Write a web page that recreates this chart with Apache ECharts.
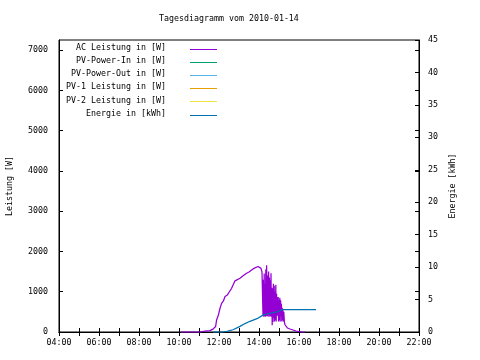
<!DOCTYPE html>
<html>
<head>
<meta charset="utf-8">
<script src="https://cdn.jsdelivr.net/npm/echarts@6/dist/echarts.min.js"></script>
<style>html,body{margin:0;padding:0;background:#fff}#c{width:480px;height:360px}</style>
</head>
<body>
<div id="c"></div>
<script>
// ---- data ----
const titleText = 'Tagesdiagramm vom 2010-01-14';
const seriesNames = ['AC Leistung in [W]', 'PV-Power-In in [W]', 'PV-Power-Out in [W]', 'PV-1 Leistung in [W]', 'PV-2 Leistung in [W]', 'Energie in [kWh]'];
const seriesColors = ['#9400d3', '#009e73', '#56b4e9', '#e69f00', '#f0e442', '#0072b2'];
const leftAxisName = 'Leistung [W]';
const rightAxisName = 'Energie [kWh]';

// AC power: time in hours, value in W
const acHours = [10.1, 11.05, 11.1, 11.3, 11.35, 11.55, 11.6, 11.7, 11.72, 11.8, 11.83, 11.88, 11.97, 12.05, 12.13, 12.22, 12.3, 12.42, 12.52, 12.63, 12.72, 12.8, 12.88, 13.05, 13.22, 13.38, 13.5, 13.6, 13.75, 13.85, 13.95, 14.05, 14.1, 14.15,
  14.18, 14.2, 14.22, 14.24, 14.26, 14.28, 14.3, 14.32, 14.34, 14.36, 14.38, 14.4, 14.42, 14.44, 14.46, 14.48, 14.5, 14.52, 14.54, 14.56, 14.58, 14.6, 14.62, 14.64, 14.66, 14.68, 14.7, 14.72, 14.74, 14.76, 14.78, 14.8, 14.82, 14.84, 14.86, 14.88, 14.9, 14.92, 14.94, 14.96, 14.98, 15.0, 15.02, 15.04, 15.06, 15.08, 15.1, 15.12, 15.14, 15.16, 15.18, 15.2, 15.22, 15.24, 15.27,
  15.3, 15.35, 15.42, 15.55, 15.7, 15.85, 16.0, 16.15, 16.3];
const acWatts = [0, 0, 20, 20, 35, 35, 70, 70, 100, 100, 135, 300, 420, 590, 710, 770, 880, 920, 1000, 1085, 1185, 1270, 1290, 1335, 1400, 1460, 1490, 1515, 1580, 1625, 1625, 1615, 1580, 1490,
  1490, 400, 1300, 380, 1450, 400, 1200, 380, 1550, 390, 1660, 1660, 400, 1400, 380, 1500, 420, 1350, 380, 1285, 400, 1460, 380, 1100, 170, 1085, 250, 1200, 350, 1150, 260, 1000, 300, 1170, 260, 950, 400, 870, 420, 870, 260, 800, 300, 850, 260, 790, 400, 700, 260, 600, 300, 540, 260, 500, 250,
  180, 140, 100, 75, 50, 25, 10, 0, 0];

// Energy: time in hours, value in kWh
const energyHours = [11.7, 12.2, 12.4, 12.7, 13.05, 13.3, 13.55, 13.9, 14.2, 14.5, 14.9, 15.15, 16.85];
const energyKWh = [0, 0, 0.1, 0.35, 0.87, 1.3, 1.65, 2.05, 2.6, 2.85, 3.1, 3.43, 3.45];

// other series: no data in reference
const pvInData = [];
const pvOutData = [];
const pv1Data = [];
const pv2Data = [];

// axes
const xMin = 4, xMax = 22;
const leftMin = 0, leftMax = 7250, leftStep = 1000;
const rightMin = 0, rightMax = 45, rightStep = 5;

// ---- chart ----
const FONT = 'DejaVu Sans Mono';
const FS = 8.3;
const zip = (a, b) => a.map((v, i) => [v, b[i]]);
const chart = echarts.init(document.getElementById('c'), null, {renderer: 'canvas'});

const tickStyle = {show: true, inside: true, length: 4, lineStyle: {color: '#000', width: 1}};
const lblStyle = {color: '#000', fontFamily: FONT, fontSize: FS};

const legendGraphics = [];
seriesNames.forEach((n, i) => {
  const y = 49 + i * 13.1;
  legendGraphics.push({type: 'text', x: 166, y: y - 1, style: {text: n, fill: '#000', font: FS + 'px "' + FONT + '"', align: 'right', verticalAlign: 'middle'}});
  legendGraphics.push({type: 'line', shape: {x1: 190, y1: Math.round(y) + 0.5, x2: 217, y2: Math.round(y) + 0.5}, style: {stroke: seriesColors[i], lineWidth: 1}});
});

const lineSeries = (name, data, color, yIdx) => ({
  name, type: 'line', data, xAxisIndex: 0, yAxisIndex: yIdx, showSymbol: false, symbol: 'none',
  lineStyle: {color, width: 1.25}, itemStyle: {color}, animation: false, silent: true
});

chart.setOption({
  animation: false,
  backgroundColor: '#fff',
  title: {text: titleText, left: 154, top: 10, textStyle: {fontFamily: FONT, fontSize: FS, fontWeight: 'normal', color: '#000'}},
  grid: {left: 59, top: 40, right: 61, bottom: 28, containLabel: false, outerBoundsMode: 'none',
         show: true, borderColor: '#000', borderWidth: 1, backgroundColor: 'transparent'},
  xAxis: [
    {type: 'value', position: 'bottom', min: xMin, max: xMax, interval: 1,
     axisLine: {show: true, lineStyle: {color: '#000'}}, axisTick: tickStyle, splitLine: {show: false},
     axisLabel: Object.assign({}, lblStyle, {margin: 7, formatter: v => (v % 2 === 0 ? String(v).padStart(2, '0') + ':00' : '')})},
    {type: 'value', position: 'top', min: xMin, max: xMax, interval: 1,
     axisLine: {show: true, lineStyle: {color: '#000'}}, axisTick: tickStyle, splitLine: {show: false}, axisLabel: {show: false}}
  ],
  yAxis: [
    {type: 'value', position: 'left', min: leftMin, max: leftMax, interval: leftStep,
     name: leftAxisName, nameLocation: 'middle', nameGap: 45, nameRotate: 90,
     nameTextStyle: lblStyle,
     axisLine: {show: true, lineStyle: {color: '#000'}}, axisTick: tickStyle, splitLine: {show: false},
     axisLabel: Object.assign({}, lblStyle, {margin: 11, showMaxLabel: false, formatter: v => String(v)})},
    {type: 'value', position: 'right', min: rightMin, max: rightMax, interval: rightStep,
     name: rightAxisName, nameLocation: 'middle', nameGap: 28, nameRotate: 90,
     nameTextStyle: lblStyle,
     axisLine: {show: true, lineStyle: {color: '#000'}}, axisTick: tickStyle, splitLine: {show: false},
     axisLabel: Object.assign({}, lblStyle, {margin: 9, formatter: v => String(v)})},
    {type: 'value', position: 'right', min: leftMin, max: leftMax, interval: leftStep,
     axisLine: {show: false}, axisTick: tickStyle, splitLine: {show: false}, axisLabel: {show: false}}
  ],
  series: [
    lineSeries(seriesNames[0], zip(acHours, acWatts), seriesColors[0], 0),
    lineSeries(seriesNames[1], pvInData, seriesColors[1], 0),
    lineSeries(seriesNames[2], pvOutData, seriesColors[2], 0),
    lineSeries(seriesNames[3], pv1Data, seriesColors[3], 0),
    lineSeries(seriesNames[4], pv2Data, seriesColors[4], 0),
    lineSeries(seriesNames[5], zip(energyHours, energyKWh), seriesColors[5], 1)
  ],
  graphic: legendGraphics
});
</script>
</body>
</html>
